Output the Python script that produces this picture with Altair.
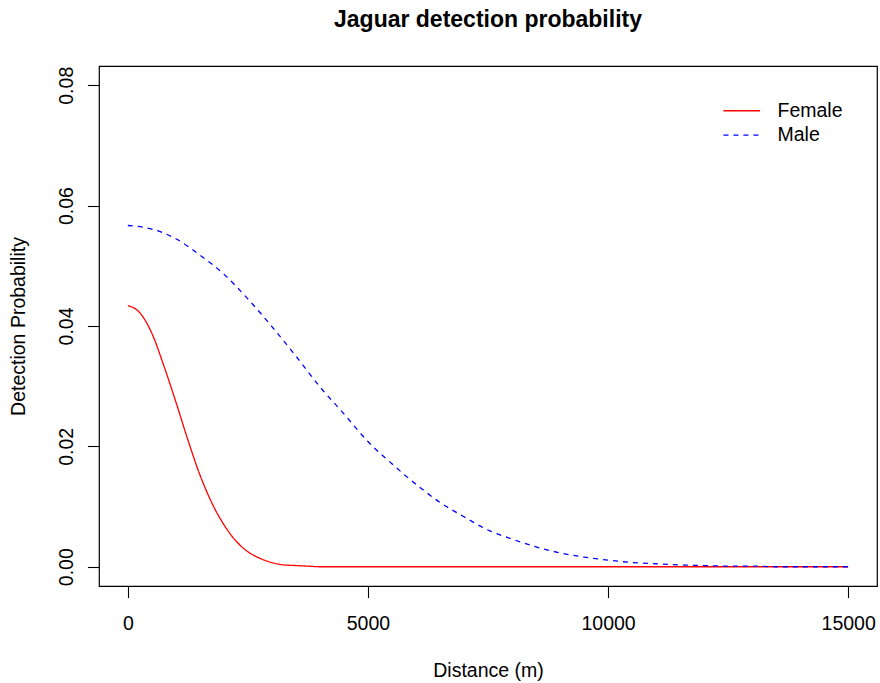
import altair as alt
import pandas as pd

# ---- data ----
female_distance = [0, 250, 500, 750, 1000, 1250, 1500, 1750, 2000, 2250, 2500,
                   2750, 3000, 3250, 3500, 3750, 4000, 5000, 6000, 7000, 8000,
                   9000, 10000, 11000, 12000, 13000, 14000, 15000]
female_prob = [0.0434, 0.0422, 0.0388, 0.0334, 0.0274, 0.0211, 0.0153, 0.0106,
               0.0070, 0.0043, 0.0025, 0.0014, 0.0007, 0.0003, 0.0002, 0.0001,
               0.0000, 0.0, 0.0, 0.0, 0.0, 0.0, 0.0, 0.0, 0.0, 0.0, 0.0, 0.0]

male_distance = [0, 500, 1000, 1500, 2000, 2500, 3000, 3500, 4000, 4500, 5000,
                 5500, 6000, 6500, 7000, 7500, 8000, 8500, 9000, 9500, 10000,
                 10500, 11000, 11500, 12000, 12500, 13000, 13500, 14000, 14500, 15000]
male_prob = [0.0567, 0.0561, 0.0545, 0.0518, 0.0486, 0.0445, 0.0399, 0.0350,
             0.0299, 0.0254, 0.0208, 0.0171, 0.0137, 0.0107, 0.0083, 0.0061,
             0.0046, 0.0033, 0.0023, 0.0016, 0.0011, 0.0007, 0.0005, 0.0003,
             0.0002, 0.0001, 0.0001, 0.0000, 0.0, 0.0, 0.0]

sexes = ["Female", "Male"]
sex_colors = ["#FF0000", "#0000FF"]
sex_dashes = [[1, 0], [5, 5]]

x_ticks = [0, 5000, 10000, 15000]
y_ticks = [0.0, 0.02, 0.04, 0.06, 0.08]

df = pd.concat([
    pd.DataFrame({"distance": female_distance, "prob": female_prob, "sex": "Female"}),
    pd.DataFrame({"distance": male_distance, "prob": male_prob, "sex": "Male"}),
], ignore_index=True)

FONT = "Liberation Sans"
FS = 19.5

legend = alt.Legend(
    title=None, orient="none", legendX=633, legendY=35,
    symbolType="M-3,0H3", symbolSize=149, symbolStrokeWidth=1.3,
    labelFont=FONT, labelFontSize=FS, labelColor="black",
    labelOffset=26, rowPadding=3.3, padding=0,
)

chart = alt.Chart(df).mark_line(strokeWidth=1.3, interpolate="monotone").encode(
    x=alt.X("distance:Q",
            scale=alt.Scale(domain=[-600, 15600], nice=False, zero=False),
            axis=alt.Axis(values=x_ticks, format="d", title="Distance (m)",
                          labelBaseline="alphabetic", labelPadding=32,
                          titleY=90, titleX=389, titleBaseline="alphabetic",
                          titleAlign="center")),
    y=alt.Y("prob:Q",
            scale=alt.Scale(domain=[-0.0032, 0.0832], nice=False, zero=False),
            axis=alt.Axis(values=y_ticks, format=".2f", title="Detection Probability",
                          labelAngle=270, labelAlign="center", labelBaseline="alphabetic",
                          labelPadding=15.3, titleAngle=270, titleX=-75, titleY=260,
                          titleBaseline="alphabetic", titleAlign="center")),
    color=alt.Color("sex:N", scale=alt.Scale(domain=sexes, range=sex_colors), legend=legend),
    strokeDash=alt.StrokeDash("sex:N", scale=alt.Scale(domain=sexes, range=sex_dashes), legend=legend),
).properties(
    width=778, height=520,
    padding={"left": 99, "top": 66, "right": 3, "bottom": 97},
    autosize=alt.AutoSizeParams(type="none"),
    background="white",
    title=alt.TitleParams("Jaguar detection probability", font=FONT, fontSize=23,
                          fontWeight="bold", color="black", anchor="middle",
                          frame="group", offset=16, baseline="alphabetic"),
).configure_view(
    stroke="black", strokeWidth=1.2
).configure_axis(
    domain=False, grid=False, ticks=True, tickColor="black", tickWidth=1.1,
    tickSize=11.6, labelFont=FONT, labelFontSize=FS, labelColor="black",
    titleFont=FONT, titleFontSize=FS, titleFontWeight="normal", titleColor="black",
)

chart.save("out.html", embed_options={"renderer": "svg", "actions": False})
